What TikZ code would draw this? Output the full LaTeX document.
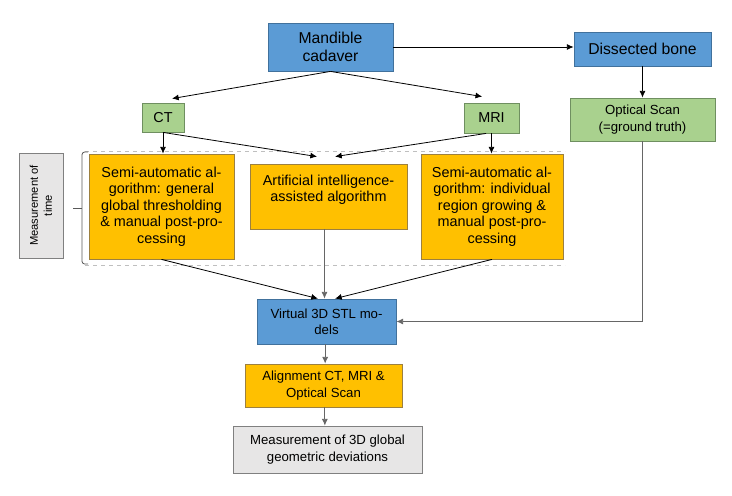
\documentclass[tikz,border=0pt]{standalone}
\usepackage{fontspec}
\setmainfont{Liberation Sans}
\usetikzlibrary{arrows.meta}

\definecolor{boxblue}{HTML}{5B9BD5}
\definecolor{boxblueline}{HTML}{41719C}
\definecolor{boxgreen}{HTML}{A9D18E}
\definecolor{boxgreenline}{HTML}{6F8F60}
\definecolor{boxorange}{HTML}{FFC000}
\definecolor{boxorangeline}{HTML}{9C8040}
\definecolor{boxgrey}{HTML}{E7E6E6}
\definecolor{boxgreyline}{HTML}{808080}

\begin{document}
\begin{tikzpicture}[x=0.75pt, y=-0.75pt, >={Latex[length=5pt,width=4.5pt]},
	box/.style={draw, line width=0.6pt, align=center, inner sep=0pt},
	bluebox/.style={box, fill=boxblue, draw=boxblueline},
	greenbox/.style={box, fill=boxgreen, draw=boxgreenline},
	orangebox/.style={box, fill=boxorange, draw=boxorangeline},
	greybox/.style={box, fill=boxgrey, draw=boxgreyline},
	bigfont/.style={font=\fontsize{11.8}{13.5}\selectfont},
	midfont/.style={font=\fontsize{10.8}{12.4}\selectfont},
	smallfont/.style={font=\fontsize{9.9}{12.2}\selectfont},
	tinyfont/.style={font=\fontsize{8.4}{10.5}\selectfont},
	link/.style={->, line width=0.6pt},
	greylink/.style={link, draw=gray!80!black},
	groupline/.style={gray!50, dashed, line width=0.5pt},
	bracket/.style={gray!70!black, line width=0.6pt}]
	\useasboundingbox (0,0) rectangle (732,496);

	% sources
	\node[bluebox, bigfont, minimum width=93.75pt, minimum height=36pt] (mandible) at (330.5,47) {Mandible\\cadaver};
	\node[bluebox, bigfont, minimum width=102.75pt, minimum height=25.5pt] (dissected) at (642.5,49) {Dissected bone};
	\node[greenbox, smallfont, minimum width=108.75pt, minimum height=32.25pt] (optical) at (642.5,119.5) {Optical Scan\\(=ground truth)};
	\node[greenbox, midfont, minimum width=31.5pt, minimum height=21.75pt] (ct) at (163,117.5) {CT};
	\node[greenbox, midfont, minimum width=41.25pt, minimum height=22.5pt] (mri) at (491.5,118) {MRI};

	% segmentation group
	\draw[groupline] (85,151) -- (565,151);
	\draw[groupline] (85,265) -- (565,265);
	\draw[bracket, rounded corners=2pt] (88,152) -- (82,152) -- (82,264) -- (88,264);
	\draw[bracket] (73,208) -- (82,208);
	\node[greybox, tinyfont, rotate=90, minimum width=78.75pt, minimum height=33pt] (time) at (41,205.5) {Measurement of\\time};

	\node[orangebox, midfont, minimum width=108.75pt, minimum height=78.75pt] (semil) at (161.5,206.5) {Semi-automatic al-\\gorithm: general\\global thresholding\\\& manual post-pro-\\cessing};
	\node[orangebox, midfont, minimum width=117.75pt, minimum height=48.75pt] (ai) at (328.5,196.5) {Artificial intelligence-\\assisted algorithm\\~};
	\node[orangebox, midfont, minimum width=106.5pt, minimum height=78.75pt] (semir) at (492,206.5) {Semi-automatic al-\\gorithm: individual\\region growing \&\\manual post-pro-\\cessing};

	% results
	\node[bluebox, smallfont, minimum width=104.25pt, minimum height=33.75pt] (virtual) at (326.5,321.5) {Virtual 3D STL mo-\\dels};
	\node[orangebox, smallfont, minimum width=117.75pt, minimum height=32.25pt] (alignment) at (323.5,385.5) {Alignment CT, MRI \&\\Optical Scan};
	\node[greybox, smallfont, minimum width=141.75pt, minimum height=35.25pt] (deviation) at (327.5,449.5) {Measurement of 3D global\\geometric deviations};

	% connectors
	\draw[link] (mandible.south) -- ([xshift=6.75pt, yshift=3pt]ct.north);
	\draw[link] (mandible.south) -- ([xshift=-7pt, yshift=4.5pt]mri.north);
	\draw[link] (mandible.east) -- (mandible.east -| dissected.west);
	\draw[link] (dissected.south) -- (optical.north);
	\draw[link] (ct.south) -- (ct.south |- semil.north);
	\draw[link] (ct.south) -- ([xshift=-8.6pt, yshift=5.25pt]ai.north);
	\draw[link] ([xshift=-4pt]mri.south) -- ([xshift=4.9pt, yshift=5.25pt]ai.north);
	\draw[link] (mri.south) -- (mri.south |- semir.north);
	\draw[link] (semil.south) -- ([xshift=-6.4pt]virtual.north);
	\draw[greylink] ([xshift=-3pt]ai.south) -- ([xshift=-3pt]ai.south |- virtual.north);
	\draw[link] (semir.south) -- ([xshift=6.4pt]virtual.north);
	\draw[greylink] (optical.south) |- (virtual.east);
	\draw[greylink] ([xshift=-1pt]virtual.south) -- ([xshift=-1pt]virtual.south |- alignment.north);
	\draw[greylink] ([xshift=1pt]alignment.south) -- ([xshift=1pt]alignment.south |- deviation.north);
\end{tikzpicture}
\end{document}
